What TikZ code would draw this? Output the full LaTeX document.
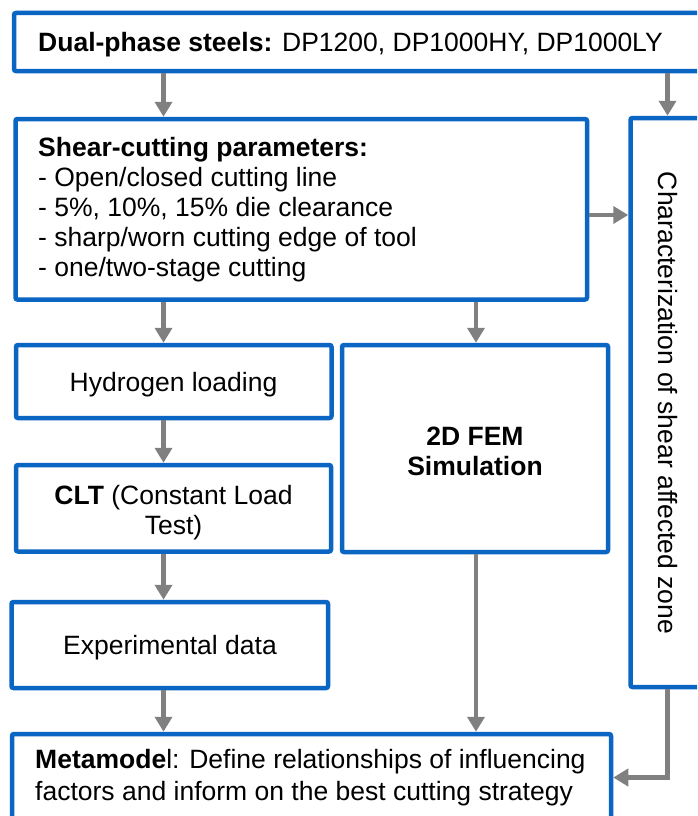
\documentclass[tikz,border=0pt]{standalone}
\usepackage{fontspec}
\setmainfont{Liberation Sans}
\usetikzlibrary{arrows.meta,fit}
\definecolor{boxblue}{HTML}{0A66C2}
\definecolor{arrgray}{HTML}{808080}
\tikzset{
  box/.style={draw=boxblue, line width=4.5pt, rounded corners=2pt, fill=white, inner sep=0pt},
  txt/.style={font=\fontsize{26.5}{30}\selectfont, inner sep=0pt, text=black},
  arr/.style={draw=arrgray, line width=4.5pt, -{Triangle[length=15pt,width=17pt]}}
}
\begin{document}
\begin{tikzpicture}[x=1pt,y=-1pt]
\useasboundingbox (0,0) rectangle (697,816);
\fill[white] (0,0) rectangle (697,816);
\clip (0,0) rectangle (697,816);
% boxes
\node[box, fit={(14,13) (712,71)}] (steel) {};
\node[box, fit={(15.5,119) (587,299.5)}] (shear) {};
\node[box, fit={(630.5,118) (706,687)}] (char) {};
\node[box, fit={(16,345) (331.5,418)}] (hyd) {};
\node[box, fit={(16,465) (331,551.5)}] (clt) {};
\node[box, fit={(342,345) (608,552)}] (fem) {};
\node[box, fit={(11.5,602) (328,688)}] (exp) {};
\node[box, fit={(12,734) (611,840)}] (meta) {};
% texts
\node[txt, anchor=base west] (steelT) at (38,52) {\textbf{Dual-phase steels:} DP1200, DP1000HY, DP1000LY};
\node[txt, anchor=north west, align=left] (shearT) at (38,135) {\rule{0pt}{21pt}\textbf{Shear-cutting parameters:}\\- Open/closed cutting line\\- 5\%, 10\%, 15\% die clearance\\- sharp/worn cutting edge of tool\\- one/two-stage cutting};
\node[txt, anchor=base] (hydT) at (173.5,391.5) {Hydrogen loading};
\node[txt, anchor=north, align=center] (cltT) at (173.5,483) {\rule{0pt}{21pt}\textbf{CLT} (Constant Load\\Test)};
\node[txt, anchor=north, align=center, font=\fontsize{26.5}{30}\selectfont\bfseries] (femT) at (475,424) {\rule{0pt}{21pt}2D FEM\\Simulation};
\node[txt, anchor=base] (expT) at (170,654) {Experimental data};
\node[txt, anchor=north west, align=left, font=\fontsize{26.5}{32}\selectfont] (metaT) at (35,747) {\rule{0pt}{21pt}\textbf{Metamode}l: Define relationships of influencing\\factors and inform on the best cutting strategy};
\node[txt, rotate=-90, anchor=base] (charT) at (658,403) {Characterization of shear affected zone};
% connector columns and rows
\coordinate (cA) at (163.5,0);
\coordinate (cB) at (476,0);
\coordinate (cC) at (667.5,0);
\coordinate (rS) at (0,215);
\coordinate (rM) at (0,777.5);
% arrows
\draw[arr] (steel.south -| cA) -- (shear.north -| cA);
\draw[arr] (steel.south -| cC) -- (char.north -| cC);
\draw[arr] (shear.east |- rS) -- (char.west |- rS);
\draw[arr] (shear.south -| cA) -- (hyd.north -| cA);
\draw[arr] (shear.south -| cB) -- (fem.north -| cB);
\draw[arr] (hyd.south -| cA) -- (clt.north -| cA);
\draw[arr] (clt.south -| cA) -- (exp.north -| cA);
\draw[arr] (exp.south -| cA) -- (meta.north -| cA);
\draw[arr] (fem.south -| cB) -- (meta.north -| cB);
\draw[arr] (char.south -| cC) |- (meta.east |- rM);
\end{tikzpicture}
\end{document}
